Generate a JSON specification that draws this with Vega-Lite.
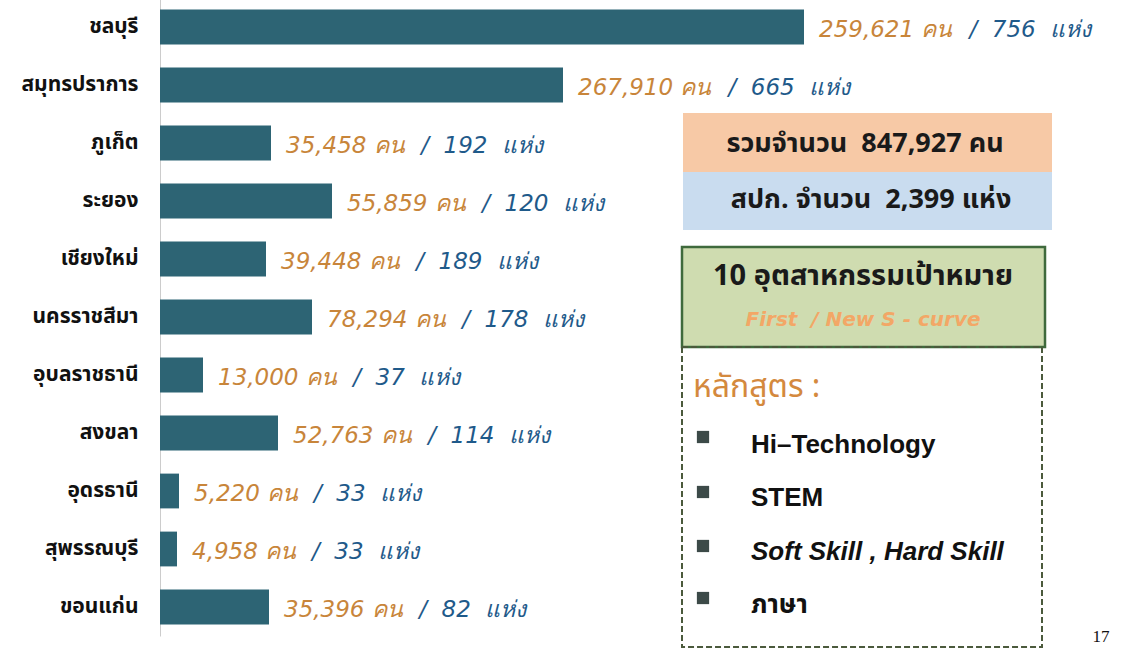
{
  "$schema": "https://vega.github.io/schema/vega-lite/v6.json",
  "width": 969,
  "height": 638,
  "autosize": {"type": "none"},
  "padding": {"left": 160, "top": -2, "right": 0, "bottom": 16},
  "background": "white",
  "config": {"view": {"stroke": null}},
  "data": {
    "values": [
      {"province": "ชลบุรี", "value": 644, "people": 259621, "places": 756},
      {"province": "สมุทรปราการ", "value": 403, "people": 267910, "places": 665},
      {"province": "ภูเก็ต", "value": 111, "people": 35458, "places": 192},
      {"province": "ระยอง", "value": 172, "people": 55859, "places": 120},
      {"province": "เชียงใหม่", "value": 106, "people": 39448, "places": 189},
      {"province": "นครราชสีมา", "value": 152, "people": 78294, "places": 178},
      {"province": "อุบลราชธานี", "value": 43, "people": 13000, "places": 37},
      {"province": "สงขลา", "value": 118, "people": 52763, "places": 114},
      {"province": "อุดรธานี", "value": 19, "people": 5220, "places": 33},
      {"province": "สุพรรณบุรี", "value": 17, "people": 4958, "places": 33},
      {"province": "ขอนแก่น", "value": 109, "people": 35396, "places": 82}
    ]
  },
  "resolve": {"scale": {"y": "independent"}},
  "layer": [
    {
      "transform": [
        {"calculate": "format(datum.people, ',') + '\u00a0คน'", "as": "peopleLabel"},
        {"calculate": "'/\u00a0 ' + datum.places + '\u00a0 แห่ง'", "as": "placesLabel"},
        {"calculate": "datum.value + 15 + length(format(datum.people, ',')) * 15.2 + 44", "as": "bx"}
      ],
      "encoding": {
        "y": {
          "field": "province",
          "type": "nominal",
          "sort": null,
          "scale": {"paddingInner": 0.4, "paddingOuter": 0.2},
          "axis": {
            "title": null,
            "ticks": false,
            "domainColor": "#cccccc",
            "domainWidth": 1,
            "labelPadding": 22,
            "labelFont": "Noto Sans Thai, Noto Sans, sans-serif",
            "labelFontWeight": "bold",
            "labelFontSize": 21,
            "labelColor": "#111111"
          }
        }
      },
      "layer": [
        {
          "mark": {"type": "bar", "color": "#2d6474"},
          "encoding": {
            "x": {"field": "value", "type": "quantitative", "scale": {"domain": [0, 969], "nice": false}, "axis": null}
          }
        },
        {
          "mark": {"type": "text", "align": "left", "baseline": "middle", "dx": 15, "dy": 3, "font": "DejaVu Sans", "fontStyle": "italic", "fontSize": 23, "color": "#c8853a"},
          "encoding": {
            "x": {"field": "value", "type": "quantitative"},
            "text": {"field": "peopleLabel"}
          }
        },
        {
          "mark": {"type": "text", "align": "left", "baseline": "middle", "dy": 3, "font": "DejaVu Sans", "fontStyle": "italic", "fontSize": 23, "color": "#1f5a8a"},
          "encoding": {
            "x": {"field": "bx", "type": "quantitative"},
            "text": {"field": "placesLabel"}
          }
        }
      ]
    },
    {
      "data": {"values": [{}]},
      "encoding": {
        "y": {"datum": 0, "type": "quantitative", "scale": {"domain": [-0.5, 10.5], "reverse": true, "nice": false, "zero": false}, "axis": null}
      },
      "layer": [
        {
          "mark": {"type": "rect", "fill": "#f7c9a6"},
          "encoding": {"x": {"datum": 523}, "x2": {"datum": 892}, "y": {"datum": 1.483}, "y2": {"datum": 2.5}}
        },
        {
          "mark": {"type": "rect", "fill": "#c9dcef"},
          "encoding": {"x": {"datum": 523}, "x2": {"datum": 892}, "y": {"datum": 2.5}, "y2": {"datum": 3.5}}
        },
        {
          "mark": {"type": "rect", "fill": "#cfdcb0", "stroke": "#3f6a3c", "strokeWidth": 2.5},
          "encoding": {"x": {"datum": 522}, "x2": {"datum": 885}, "y": {"datum": 3.793}, "y2": {"datum": 5.517}}
        },
        {
          "mark": {"type": "rect", "fill": null, "stroke": "#4b5a3c", "strokeWidth": 2, "strokeDash": [6, 3]},
          "encoding": {"x": {"datum": 522}, "x2": {"datum": 882}, "y": {"datum": 5.517}, "y2": {"datum": 10.69}}
        },
        {
          "mark": {"type": "text", "align": "center", "baseline": "middle", "font": "Noto Sans Thai, DejaVu Sans", "fontWeight": "bold", "fontSize": 27, "color": "#1a1a1a", "text": "รวมจำนวน\u00a0 847,927 คน"},
          "encoding": {"x": {"datum": 705}, "y": {"datum": 2.017}}
        },
        {
          "mark": {"type": "text", "align": "center", "baseline": "middle", "font": "Noto Sans Thai, DejaVu Sans", "fontWeight": "bold", "fontSize": 27, "color": "#1a1a1a", "text": "สปก. จำนวน\u00a0 2,399 แห่ง"},
          "encoding": {"x": {"datum": 711}, "y": {"datum": 2.983}}
        },
        {
          "mark": {"type": "text", "align": "center", "baseline": "middle", "font": "Noto Sans Thai, DejaVu Sans", "fontWeight": "bold", "fontSize": 29, "color": "#1a1a1a", "text": "10 อุตสาหกรรมเป้าหมาย"},
          "encoding": {"x": {"datum": 703}, "y": {"datum": 4.3}}
        },
        {
          "mark": {"type": "text", "align": "center", "baseline": "middle", "font": "DejaVu Sans", "fontWeight": "bold", "fontStyle": "italic", "fontSize": 20, "color": "#f3a766", "text": "First\u00a0 / New S - curve"},
          "encoding": {"x": {"datum": 703}, "y": {"datum": 5.05}}
        },
        {
          "mark": {"type": "text", "align": "left", "baseline": "middle", "font": "Noto Sans Thai, DejaVu Sans", "fontSize": 32, "color": "#d4893e", "text": "หลักสูตร :"},
          "encoding": {"x": {"datum": 533}, "y": {"datum": 6.2}}
        },
        {
          "mark": {"type": "square", "size": 150, "filled": true, "color": "#3c4a48", "opacity": 1},
          "encoding": {"x": {"datum": 543}, "y": {"datum": 7.069}}
        },
        {
          "mark": {"type": "square", "size": 150, "filled": true, "color": "#3c4a48", "opacity": 1},
          "encoding": {"x": {"datum": 543}, "y": {"datum": 8.017}}
        },
        {
          "mark": {"type": "square", "size": 150, "filled": true, "color": "#3c4a48", "opacity": 1},
          "encoding": {"x": {"datum": 543}, "y": {"datum": 8.948}}
        },
        {
          "mark": {"type": "square", "size": 150, "filled": true, "color": "#3c4a48", "opacity": 1},
          "encoding": {"x": {"datum": 543}, "y": {"datum": 9.845}}
        },
        {
          "mark": {"type": "text", "align": "left", "baseline": "middle", "font": "Liberation Sans", "fontWeight": "bold", "fontSize": 26, "color": "#111111", "text": "Hi–Technology"},
          "encoding": {"x": {"datum": 591}, "y": {"datum": 7.207}}
        },
        {
          "mark": {"type": "text", "align": "left", "baseline": "middle", "font": "Liberation Sans", "fontWeight": "bold", "fontSize": 26, "color": "#111111", "text": "STEM"},
          "encoding": {"x": {"datum": 591}, "y": {"datum": 8.121}}
        },
        {
          "mark": {"type": "text", "align": "left", "baseline": "middle", "font": "Liberation Sans", "fontWeight": "bold", "fontStyle": "italic", "fontSize": 26, "color": "#111111", "text": "Soft Skill , Hard Skill"},
          "encoding": {"x": {"datum": 591}, "y": {"datum": 9.052}}
        },
        {
          "mark": {"type": "text", "align": "left", "baseline": "middle", "font": "Noto Sans Thai, Liberation Sans", "fontWeight": "bold", "fontSize": 26, "color": "#111111", "text": "ภาษา"},
          "encoding": {"x": {"datum": 591}, "y": {"datum": 9.966}}
        },
        {
          "mark": {"type": "text", "align": "center", "baseline": "middle", "font": "Liberation Serif", "fontSize": 17, "color": "#111111", "text": "17"},
          "encoding": {"x": {"datum": 941}, "y": {"datum": 10.517}}
        }
      ]
    }
  ]
}
